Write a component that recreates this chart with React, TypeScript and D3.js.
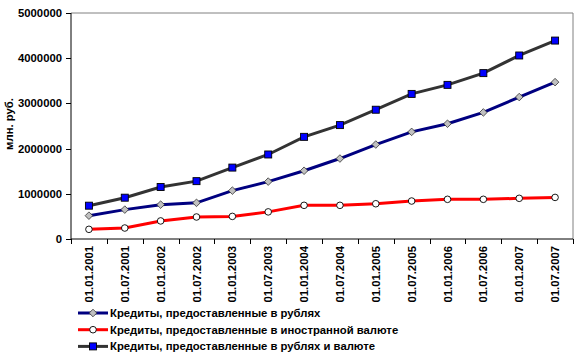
import React from "react";
import * as d3 from "d3";

const categories = [
  "01.01.2001", "01.07.2001", "01.01.2002", "01.07.2002", "01.01.2003", "01.07.2003", "01.01.2004",
  "01.07.2004", "01.01.2005", "01.07.2005", "01.01.2006", "01.07.2006", "01.01.2007", "01.07.2007",
];
const rubles = [516000, 650000, 760000, 800000, 1070000, 1270000, 1510000, 1780000, 2090000, 2370000, 2550000, 2800000, 3140000, 3470000];
const foreign = [214000, 243000, 400000, 487000, 500000, 600000, 745000, 745000, 780000, 840000, 878000, 878000, 900000, 920000];
const total = [737000, 914000, 1150000, 1280000, 1580000, 1870000, 2260000, 2520000, 2860000, 3210000, 3410000, 3670000, 4060000, 4390000];
const yTicks = [0, 1000000, 2000000, 3000000, 4000000, 5000000];
const seriesNames = [
  "Кредиты, предоставленные в рублях",
  "Кредиты, предоставленные в иностранной валюте",
  "Кредиты, предоставленные в рублях и валюте",
];

const W = 583, H = 358;
const left = 71, right = 573, top = 13, bottom = 239;
const font = "'Liberation Sans', Arial, sans-serif";

type Marker = "diamond" | "circle" | "square";

function MarkerShape({ kind, x, y }: { kind: Marker; x: number; y: number }) {
  if (kind === "diamond") {
    const s = 3.8;
    return <path d={`M${x},${y - s}L${x + s},${y}L${x},${y + s}L${x - s},${y}Z`} fill="#c0c0c0" stroke="#333333" strokeWidth={0.8} />;
  }
  if (kind === "circle") {
    return <circle cx={x} cy={y} r={3.3} fill="#ffffff" stroke="#000000" strokeWidth={0.9} />;
  }
  return <rect x={x - 3.5} y={y - 3.5} width={7} height={7} fill="#0000ff" stroke="#000000" strokeWidth={0.9} />;
}

export default function App() {
  const x = d3.scaleBand<string>().domain(categories).range([left, right]);
  const y = d3.scaleLinear().domain([0, 5000000]).range([bottom, top]);
  const line = d3.line<number>().x((_, i) => (x(categories[i]) as number) + x.bandwidth() / 2).y((d) => y(d));

  const series = [
    { name: seriesNames[0], data: rubles, color: "#000080", marker: "diamond" as Marker },
    { name: seriesNames[1], data: foreign, color: "#ff0000", marker: "circle" as Marker },
    { name: seriesNames[2], data: total, color: "#333333", marker: "square" as Marker },
  ];

  const tickXs = categories.map((c) => x(c) as number).concat([right]);

  return (
    <svg width={W} height={H} style={{ position: "absolute", left: 0, top: 0, background: "#fff" }}>
      <rect x={0} y={0} width={W} height={H} fill="#fff" />
      <line x1={left} x2={right} y1={top} y2={top} stroke="#808080" strokeWidth={1} />
      <line x1={right} x2={right} y1={top} y2={bottom} stroke="#808080" strokeWidth={1} />
      <line x1={left} x2={left} y1={top} y2={bottom} stroke="#000" strokeWidth={1} />
      <line x1={left} x2={right} y1={bottom} y2={bottom} stroke="#000" strokeWidth={1} />
      {yTicks.map((t) => (
        <g key={t}>
          <line x1={left - 5} x2={left} y1={Math.round(y(t)) + 0.5} y2={Math.round(y(t)) + 0.5} stroke="#000" />
          <text x={62} y={y(t)} dy="0.35em" textAnchor="end" fontFamily={font} fontWeight="bold" fontSize={11.3} fill="#000">
            {t}
          </text>
        </g>
      ))}
      <text transform={`translate(13,124) rotate(-90)`} textAnchor="middle" fontFamily={font} fontWeight="bold" fontSize={11.3}>
        млн. руб.
      </text>
      {tickXs.map((tx, i) => (
        <line key={i} x1={Math.round(tx) + 0.5} x2={Math.round(tx) + 0.5} y1={bottom} y2={bottom + 5} stroke="#000" />
      ))}
      {categories.map((c) => {
        const cx = (x(c) as number) + x.bandwidth() / 2;
        return (
          <text key={c} transform={`translate(${cx + 4},246) rotate(-90)`} textAnchor="end" fontFamily={font} fontWeight="bold" fontSize={11.3}>
            {c}
          </text>
        );
      })}
      {series.map((s) => (
        <g key={s.name}>
          <path d={line(s.data) as string} fill="none" stroke={s.color} strokeWidth={3} />
          {s.data.map((v, i) => (
            <MarkerShape key={i} kind={s.marker} x={(x(categories[i]) as number) + x.bandwidth() / 2} y={y(v)} />
          ))}
        </g>
      ))}
      {series.map((s, i) => {
        const ly = 313 + i * 16.7;
        return (
          <g key={s.name}>
            <line x1={78} x2={108} y1={ly} y2={ly} stroke={s.color} strokeWidth={3} />
            <MarkerShape kind={s.marker} x={93} y={ly} />
            <text x={110} y={ly} dy="0.35em" fontFamily={font} fontWeight="bold" fontSize={11.3}>
              {s.name}
            </text>
          </g>
        );
      })}
    </svg>
  );
}
